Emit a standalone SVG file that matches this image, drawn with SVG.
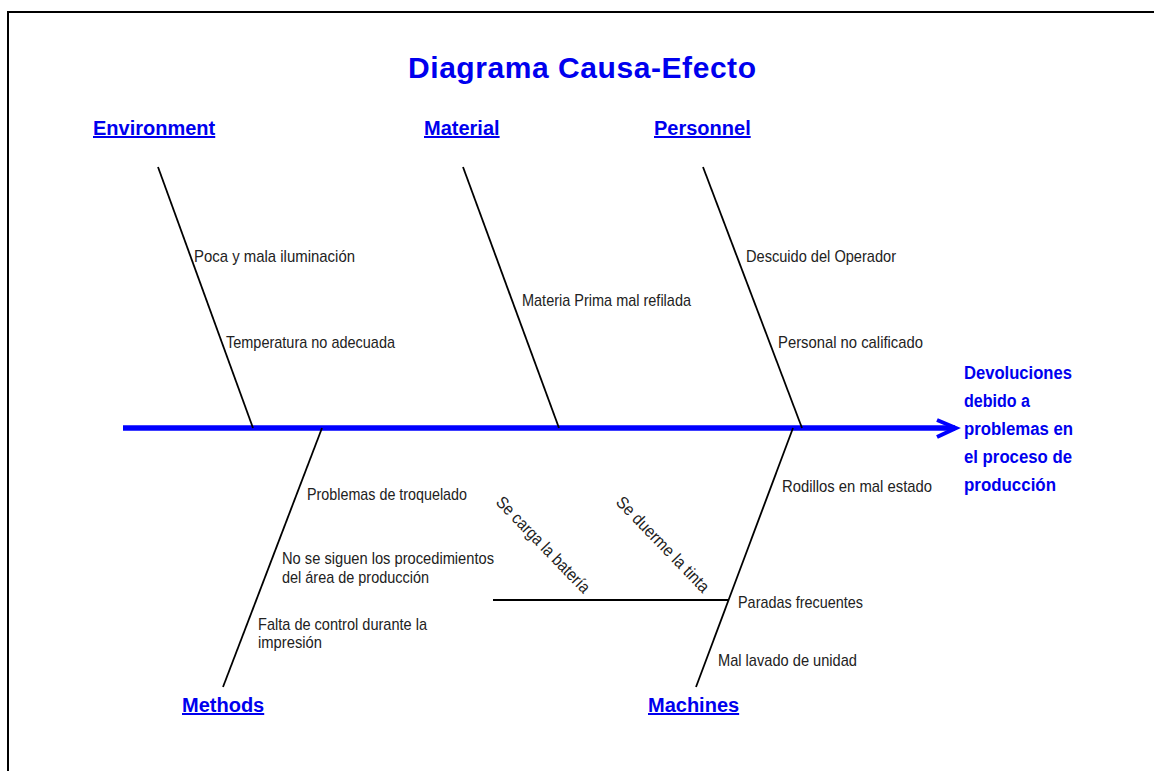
<svg xmlns="http://www.w3.org/2000/svg" width="1154" height="771" viewBox="0 0 1154 771">
<style>
  .bone { stroke: #000; stroke-width: 1.8; fill: none; }
  .cat { font-family: "Liberation Sans", Arial, sans-serif; font-weight: bold; font-size: 20px; fill: #0000ee; text-decoration: underline; }
  .cause { font-family: "Liberation Sans", Arial, sans-serif; font-size: 17px; fill: #222; }
  .effect { font-family: "Liberation Sans", Arial, sans-serif; font-weight: bold; font-size: 18px; fill: #0000ee; }
  .title { font-family: "Liberation Sans", Arial, sans-serif; font-weight: bold; font-size: 30px; fill: #0000ee; }
</style>
<rect x="0" y="0" width="1154" height="771" fill="#fff"/>
<rect x="8" y="12" width="1160" height="775" fill="none" stroke="#000" stroke-width="2"/>

<text class="title" x="408" y="78" textLength="348" lengthAdjust="spacing">Diagrama Causa-Efecto</text>

<g id="connectors">
  <line x1="123" y1="428" x2="955" y2="428" stroke="#0000ff" stroke-width="5.5"/>
  <polyline points="937,420 956,428 937,437" fill="none" stroke="#0000ff" stroke-width="4" stroke-linejoin="miter"/>
  <line class="bone" x1="158" y1="167" x2="253" y2="428"/>
  <line class="bone" x1="463" y1="167" x2="559" y2="428"/>
  <line class="bone" x1="703" y1="167" x2="802" y2="428"/>
  <line class="bone" x1="322" y1="428" x2="223" y2="687"/>
  <line class="bone" x1="793" y1="428" x2="696" y2="687"/>
  <line class="bone" x1="493" y1="600" x2="729" y2="600"/>
</g>

<g id="effect">
  <text class="effect" x="964" y="379" textLength="108" lengthAdjust="spacingAndGlyphs">Devoluciones</text>
  <text class="effect" x="964" y="407" textLength="66" lengthAdjust="spacingAndGlyphs">debido a</text>
  <text class="effect" x="964" y="435" textLength="109" lengthAdjust="spacingAndGlyphs">problemas en</text>
  <text class="effect" x="964" y="463" textLength="108" lengthAdjust="spacingAndGlyphs">el proceso de</text>
  <text class="effect" x="964" y="491" textLength="92" lengthAdjust="spacingAndGlyphs">producción</text>
</g>

<g id="environment">
  <text class="cat" x="93" y="135">Environment</text>
  <text class="cause" x="194" y="262" textLength="161" lengthAdjust="spacingAndGlyphs">Poca y mala iluminación</text>
  <text class="cause" x="226" y="348" textLength="169" lengthAdjust="spacingAndGlyphs">Temperatura no adecuada</text>
</g>

<g id="material">
  <text class="cat" x="424" y="135">Material</text>
  <text class="cause" x="522" y="306" textLength="169" lengthAdjust="spacingAndGlyphs">Materia Prima mal refilada</text>
</g>

<g id="personnel">
  <text class="cat" x="654" y="135">Personnel</text>
  <text class="cause" x="746" y="262" textLength="150" lengthAdjust="spacingAndGlyphs">Descuido del Operador</text>
  <text class="cause" x="778" y="348" textLength="145" lengthAdjust="spacingAndGlyphs">Personal no calificado</text>
</g>

<g id="methods">
  <text class="cat" x="182" y="712">Methods</text>
  <text class="cause" x="307" y="500" textLength="160" lengthAdjust="spacingAndGlyphs">Problemas de troquelado</text>
  <text class="cause" x="282" y="564" textLength="212" lengthAdjust="spacingAndGlyphs">No se siguen los procedimientos</text>
  <text class="cause" x="282" y="583" textLength="147" lengthAdjust="spacingAndGlyphs">del área de producción</text>
  <text class="cause" x="258" y="630" textLength="169" lengthAdjust="spacingAndGlyphs">Falta de control durante la</text>
  <text class="cause" x="258" y="648" textLength="64" lengthAdjust="spacingAndGlyphs">impresión</text>
</g>

<g id="machines">
  <text class="cat" x="648" y="712">Machines</text>
  <text class="cause" x="782" y="492" textLength="150" lengthAdjust="spacingAndGlyphs">Rodillos en mal estado</text>
  <text class="cause" x="738" y="608" textLength="125" lengthAdjust="spacingAndGlyphs">Paradas frecuentes</text>
  <text class="cause" x="718" y="666" textLength="139" lengthAdjust="spacingAndGlyphs">Mal lavado de unidad</text>
  <text class="cause" transform="translate(495,503) rotate(46)" x="0" y="0" textLength="127" lengthAdjust="spacingAndGlyphs">Se carga la batería</text>
  <text class="cause" transform="translate(615,503) rotate(46)" x="0" y="0" textLength="126" lengthAdjust="spacingAndGlyphs">Se duerme la tinta</text>
</g>
</svg>
